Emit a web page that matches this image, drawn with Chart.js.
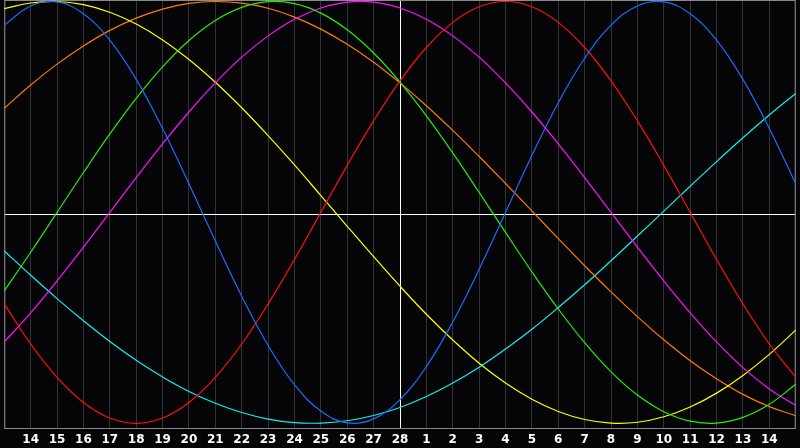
<!DOCTYPE html>
<html>
<head>
<meta charset="utf-8">
<script src="https://cdn.jsdelivr.net/npm/chart.js@4.4.1/dist/chart.umd.min.js"></script>
<style>
html,body{margin:0;padding:0;background:#050508;overflow:hidden;}
#wrap{width:800px;height:448px;position:relative;}
</style>
</head>
<body>
<div id="wrap"><canvas id="c" width="800" height="448"></canvas></div>
<script>
// Day labels (first and last slots are the plot edges)
const dayLabels = ['', '14','15','16','17','18','19','20','21','22','23','24','25','26','27','28',
  '1','2','3','4','5','6','7','8','9','10','11','12','13','14', ''];
const todayIndex = 15;

const redValues = [-0.434,-0.624,-0.782,-0.901,-0.975,-1.000,-0.975,-0.901,-0.782,-0.624,-0.434,-0.223,0.000,0.223,0.434,0.624,0.782,0.901,0.975,1.000,0.975,0.901,0.782,0.624,0.434,0.223,0.000,-0.223,-0.434,-0.624,-0.782];
const blueValues = [0.888,0.979,0.998,0.942,0.817,0.631,0.398,0.136,-0.136,-0.398,-0.631,-0.817,-0.942,-0.998,-0.979,-0.888,-0.731,-0.520,-0.270,0.000,0.270,0.520,0.731,0.888,0.979,0.998,0.942,0.817,0.631,0.398,0.136];
const greenValues = [-0.372,-0.189,0.000,0.189,0.372,0.541,0.690,0.815,0.910,0.972,0.999,0.990,0.945,0.866,0.756,0.618,0.458,0.282,0.095,-0.095,-0.282,-0.458,-0.618,-0.756,-0.866,-0.945,-0.990,-0.999,-0.972,-0.910,-0.815];
const orangeValues = [0.494,0.604,0.703,0.789,0.863,0.921,0.964,0.991,1.000,0.992,0.968,0.926,0.869,0.797,0.712,0.614,0.506,0.389,0.265,0.137,0.007,-0.124,-0.253,-0.377,-0.494,-0.604,-0.703,-0.789,-0.863,-0.921,-0.964];
const yellowValues = [0.966,0.993,1.000,0.985,0.949,0.893,0.818,0.725,0.617,0.496,0.364,0.225,0.080,-0.066,-0.210,-0.350,-0.483,-0.605,-0.715,-0.809,-0.886,-0.944,-0.982,-0.999,-0.995,-0.969,-0.923,-0.857,-0.773,-0.673,-0.558];
const magentaValues = [-0.614,-0.476,-0.325,-0.165,0.000,0.165,0.325,0.476,0.614,0.736,0.837,0.916,0.969,0.997,0.997,0.969,0.916,0.837,0.736,0.614,0.476,0.325,0.165,0.000,-0.165,-0.325,-0.476,-0.614,-0.736,-0.837,-0.916];
const cyanValues = [-0.183,-0.298,-0.409,-0.514,-0.612,-0.701,-0.780,-0.849,-0.905,-0.949,-0.980,-0.997,-0.999,-0.988,-0.963,-0.925,-0.873,-0.809,-0.734,-0.648,-0.554,-0.451,-0.343,-0.229,-0.112,0.006,0.124,0.241,0.354,0.462,0.564];

const seriesList = [
  {name:'physical', data: blueValues, color:'#1a6cff'},
  {name:'emotional', data: redValues, color:'#ff1010'},
  {name:'intellectual', data: greenValues, color:'#22ee00'},
  {name:'intuitive', data: magentaValues, color:'#ff10ff'},
  {name:'aesthetic', data: yellowValues, color:'#ffff00'},
  {name:'awareness', data: orangeValues, color:'#ff7a00'},
  {name:'spiritual', data: cyanValues, color:'#10f0f0'}
];

const bgPlugin = {
  id: 'bg',
  beforeDraw(chart) {
    const ctx = chart.ctx;
    ctx.save();
    ctx.fillStyle = '#050508';
    ctx.fillRect(0, 0, chart.width, chart.height);
    ctx.restore();
  },
  beforeDatasetsDraw(chart) {
    const {ctx, chartArea: a} = chart;
    ctx.save();
    const midY = Math.round((a.top + a.bottom) / 2) + 0.5;
    ctx.strokeStyle = '#ffffff';
    ctx.lineWidth = 1;
    ctx.beginPath();
    ctx.moveTo(a.left, midY);
    ctx.lineTo(a.right, midY);
    ctx.stroke();
    ctx.strokeStyle = '#8a8a8a';
    ctx.strokeRect(a.left + 0.5, a.top + 0.5, a.right - a.left - 1, a.bottom - a.top);
    ctx.restore();
  }
};

new Chart(document.getElementById('c'), {
  type: 'line',
  data: {
    labels: dayLabels,
    datasets: seriesList.map(s => ({
      label: s.name,
      data: s.data,
      borderColor: s.color,
      borderWidth: 1.2,
      pointRadius: 0,
      fill: false,
      tension: 0.4
    }))
  },
  options: {
    responsive: false,
    animation: false,
    devicePixelRatio: 1,
    layout: {padding: {left: 0, right: 0, top: 0, bottom: -3}},
    plugins: {legend: {display: false}, tooltip: {enabled: false}},
    scales: {
      x: {
        type: 'category',
        offset: false,
        grid: {
          drawTicks: false,
          lineWidth: 1,
          color: ctx => ctx.index === todayIndex ? '#ffffff' : '#333336'
        },
        border: {display: true, color: '#a0a0a0', width: 1},
        ticks: {
          color: '#ffffff',
          autoSkip: false,
          maxRotation: 0,
          minRotation: 0,
          padding: 4.3,
          font: {family: 'DejaVu Sans', size: 12, weight: 'bold'}
        }
      },
      y: {
        display: false,
        min: -1.0223,
        max: 1.0071
      }
    }
  },
  plugins: [bgPlugin]
});
</script>
</body>
</html>
